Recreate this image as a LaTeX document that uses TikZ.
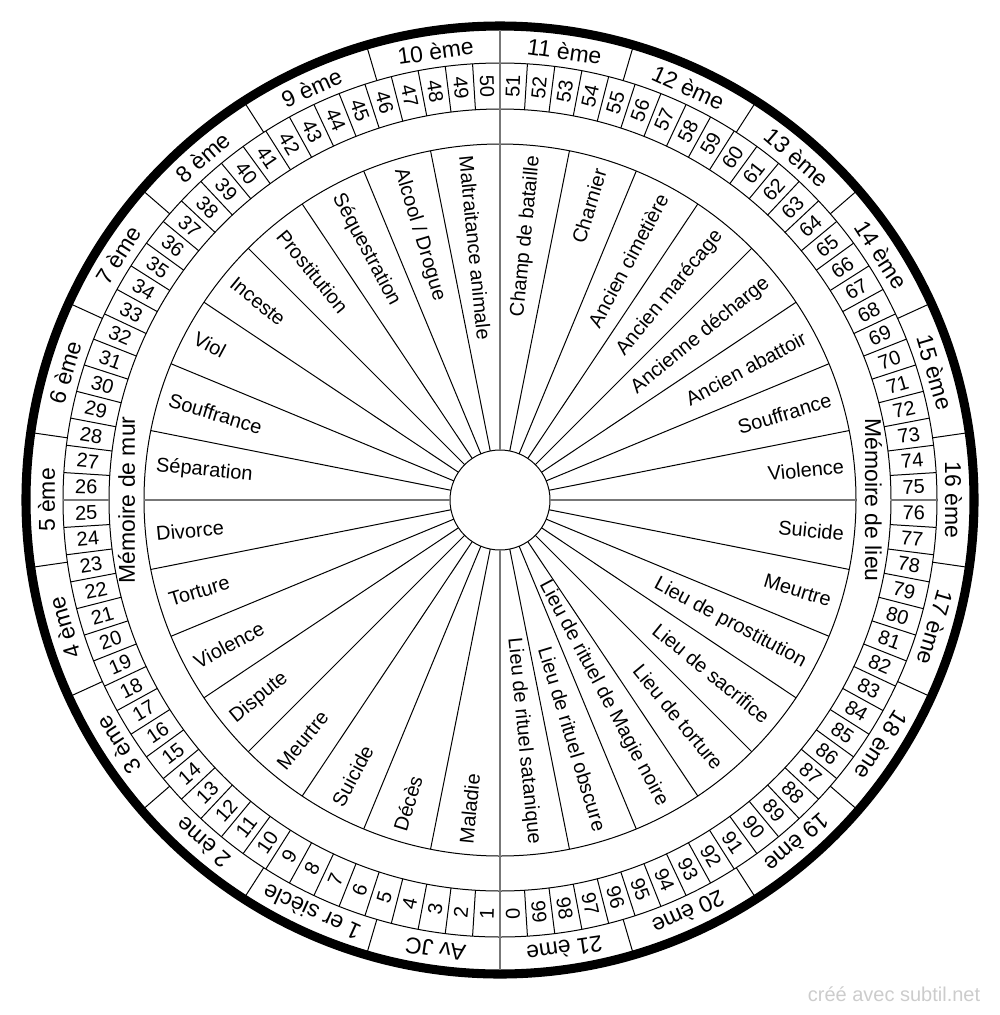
\documentclass[tikz,border=0pt]{standalone}
\usepackage{fontspec}
\setmainfont{Liberation Sans}

\tikzset{every picture/.style={line width=0.75pt}}
\tikzset{
  numlabel/.style={inner sep=0pt, font=\fontsize{15}{18}\selectfont},
  centlabel/.style={inner sep=0pt, font=\fontsize{17.2}{20}\selectfont},
  spokelabel/.style={inner sep=0pt, font=\fontsize{15}{18}\selectfont},
  axisline/.style={draw={rgb, 255:red, 119; green, 119; blue, 119 }, line width=1.5pt},
}

\begin{document}
\begin{tikzpicture}[x=0.75pt,y=0.75pt,yscale=-1,xscale=1]
\useasboundingbox (0,0) rectangle (1000,1015);

\begin{scope}[shift={(500,500)}]
%Shape: Circle [outer rim]
\draw [line width=6.8pt] (0,0) circle [radius=474];
%Shape: Circle [rings]
\draw (0,0) circle [radius=437];
\draw (0,0) circle [radius=391];
\draw (0,0) circle [radius=356];
\draw (0,0) circle [radius=50];

%Straight Lines [century cells]
\foreach \k in {0,...,21}
  \draw ({90+180/11*\k}:437) -- ({90+180/11*\k}:470);
%Straight Lines [number cells]
\foreach \k in {0,...,99}
  \draw ({90+3.6*\k}:391) -- ({90+3.6*\k}:437);
%Straight Lines [spokes]
\foreach \k in {0,...,31}
  \draw ({11.25*\k}:50) -- ({11.25*\k}:356);

%Straight Lines [axes]
\draw [axisline] (90:50) -- (90:470);
\draw [axisline] (-90:50) -- (-90:470);
\draw [axisline] (0:50) -- (0:356);
\draw [axisline] (180:50) -- (180:356);
\draw [axisline] (0:391) -- (0:437);
\draw [axisline] (180:391) -- (180:437);

% Text Node [numbers, left half]
\foreach \k in {1,...,50}
  \node [numlabel, rotate={91.8-3.6*\k}] (num\k) at ({88.2+3.6*\k}:414) {\k};
% Text Node [numbers, right half]
\foreach \k in {51,...,99}
  \node [numlabel, rotate={-88.2-3.6*\k}] (num\k) at ({88.2+3.6*\k}:414) {\k};
% Text Node
\node [numlabel, rotate=-88.2] (num0) at (88.2:414) {0};

% Text Node [centuries]
\foreach \lab [count=\k from 0] in {Av JC,1 er siècle,2 ème,3 ème,4 ème,5 ème,6 ème,7 ème,8 ème,9 ème,10 ème,11 ème,12 ème,13 ème,14 ème,15 ème,16 ème,17 ème,18 ème,19 ème,20 ème,21 ème}
  \node [centlabel, rotate={-180-180/11*(\k+0.5)}] (cent\k) at ({90+180/11*(\k+0.5)}:453.5) {\lab};

% Text Node [left half]
\foreach \lab [count=\i from 0] in {Maltraitance animale,Alcool / Drogue,Séquestration,Prostitution,Inceste,Viol,Souffrance,Séparation,Divorce,Torture,Violence,Dispute,Meurtre,Suicide,Décès,Maladie}
  \node [spokelabel, anchor=west, rotate={-84.375+11.25*\i}] (wall\i) at ({-95.625-11.25*\i}:346) {\lab};

% Text Node [right half]
\foreach \lab [count=\i from 0] in {Champ de bataille,Charnier,Ancien cimetière,Ancien marécage,Ancienne décharge,Ancien abattoir,Souffrance,Violence,Suicide,Meurtre,Lieu de prostitution,Lieu de sacrifice,Lieu de torture,Lieu de rituel de Magie noire,Lieu de rituel obscure,Lieu de rituel satanique}
  \node [spokelabel, anchor=east, rotate={84.375-11.25*\i}] (place\i) at ({-84.375+11.25*\i}:346) {\lab};

% Text Node
\node [centlabel, rotate=90] (wallT) at (180:373.5) {Mémoire de mur};
% Text Node
\node [centlabel, rotate=-90] (placeT) at (0:373.5) {Mémoire de lieu};
\end{scope}

% Text Node
\node [spokelabel, text={rgb, 255:red, 204; green, 204; blue, 204 }] (credit) at (894,994) {créé avec subtil.net};

\end{tikzpicture}
\end{document}
